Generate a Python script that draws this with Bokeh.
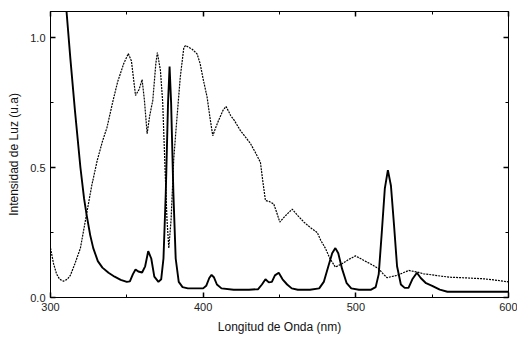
from bokeh.plotting import figure
from bokeh.models import LinearAxis, FixedTicker, Range1d
from bokeh.embed import file_html
from bokeh.resources import INLINE

# Solid curve (emission)
em_wl = [308, 310.5, 313, 316, 319.6, 322, 323.6, 326, 328, 331, 334, 338, 342, 346, 350, 352, 354, 355.7, 357.5, 360,
         362, 364, 366, 368, 370.7, 372.5, 374, 375.5, 377, 378, 379, 380.5, 382, 384, 386.5, 390, 395, 400, 402, 404,
         405.5, 407, 409, 412, 420, 430, 436, 438.5, 440.8, 443, 445, 447, 449.5, 452, 455, 458, 462, 470, 476, 479,
         482, 484.5, 486.6, 488.5, 491, 494, 497, 502, 510, 513, 515, 517, 519, 521, 523, 525, 527, 529.5, 532, 534.5,
         537, 540, 542.5, 546, 550, 555, 560, 570, 580, 600]
em_val = [1.35, 1.1, 0.92, 0.72, 0.5, 0.38, 0.32, 0.24, 0.19, 0.14, 0.115, 0.095, 0.08, 0.068, 0.06, 0.062, 0.09, 0.108, 0.1, 0.096,
          0.12, 0.178, 0.15, 0.08, 0.06, 0.07, 0.15, 0.4, 0.75, 0.888, 0.75, 0.4, 0.15, 0.06, 0.04, 0.035, 0.035, 0.035, 0.045, 0.075,
          0.087, 0.078, 0.05, 0.035, 0.03, 0.03, 0.032, 0.05, 0.07, 0.058, 0.06, 0.085, 0.095, 0.07, 0.05, 0.035, 0.03, 0.03, 0.035, 0.06,
          0.12, 0.17, 0.19, 0.17, 0.11, 0.055, 0.035, 0.03, 0.03, 0.04, 0.09, 0.25, 0.42, 0.49, 0.43, 0.28, 0.12, 0.05, 0.037, 0.037,
          0.07, 0.095, 0.075, 0.055, 0.045, 0.03, 0.022, 0.022, 0.022, 0.022]

# Dotted curve
ab_wl = [300, 302, 304, 306, 308.5, 311, 313, 316, 319.6, 323.6, 327, 330.6, 334, 337, 341, 344, 348, 351, 353, 355.7,
         358, 360, 361.5, 363.3, 365, 367, 369, 370, 372, 373.5, 375, 376.3, 377.5, 379, 380.7, 382, 385, 387.3, 388.4, 392.8,
         396, 398, 400, 402.6, 404.5, 406.3, 408, 410, 413, 415, 418, 420.5, 424.4, 428, 431, 434, 437.5, 439, 440.8, 443,
         446.2, 448, 450.2, 454, 458.3, 462, 466, 470, 474.7, 477, 480, 483, 486.6, 491, 495, 499.7, 503, 507.4, 511, 515,
         518, 520.5, 523, 527, 531, 534.7, 540, 544.5, 550, 556, 562, 570, 577, 583.6, 590, 595, 600]
ab_val = [0.19, 0.13, 0.09, 0.07, 0.063, 0.07, 0.085, 0.13, 0.19, 0.32, 0.43, 0.527, 0.6, 0.654, 0.758, 0.83, 0.9, 0.938, 0.91, 0.777,
          0.8, 0.838, 0.76, 0.63, 0.7, 0.758, 0.9, 0.942, 0.873, 0.75, 0.5, 0.3, 0.19, 0.3, 0.53, 0.63, 0.847, 0.96, 0.969, 0.955,
          0.937, 0.9, 0.84, 0.77, 0.69, 0.622, 0.65, 0.68, 0.72, 0.735, 0.7, 0.68, 0.642, 0.615, 0.592, 0.56, 0.52, 0.45, 0.373, 0.37,
          0.36, 0.33, 0.29, 0.315, 0.34, 0.315, 0.29, 0.27, 0.25, 0.22, 0.19, 0.15, 0.117, 0.13, 0.145, 0.16, 0.15, 0.136, 0.125, 0.11,
          0.09, 0.076, 0.08, 0.085, 0.095, 0.104, 0.098, 0.091, 0.087, 0.082, 0.078, 0.076, 0.074, 0.072, 0.068, 0.064, 0.06]

x_ticks = [300, 400, 500, 600]
x_minor = [350, 450, 550]
y_ticks = [0.0, 0.5, 1.0]
y_minor = [0.25, 0.75]

FONT = "Liberation Sans"

p = figure(width=517, height=337, output_backend="svg", toolbar_location=None,
           x_range=Range1d(300, 600), y_range=Range1d(0, 1.1),
           x_axis_label="Longitud de Onda (nm)", y_axis_label="Intensidad de Luz (u.a)",
           min_border_left=50, min_border_right=9, min_border_top=11, min_border_bottom=40)
p.grid.visible = False
p.background_fill_color = "white"
p.border_fill_color = "white"
p.outline_line_color = "black"
p.outline_line_width = 1

p.line(em_wl, em_val, line_color="black", line_width=1.9)
p.line(ab_wl, ab_val, line_color="black", line_width=1.2, line_dash="2 1")

xt = FixedTicker(ticks=x_ticks, minor_ticks=x_minor)
yt = FixedTicker(ticks=y_ticks, minor_ticks=y_minor)

def style(ax, ticker, labels=True):
    ax.ticker = ticker
    ax.axis_line_color = "black"
    ax.axis_line_width = 1
    ax.major_tick_in = 5
    ax.major_tick_out = 0
    ax.minor_tick_in = 3
    ax.minor_tick_out = 0
    ax.major_tick_line_color = "black"
    ax.minor_tick_line_color = "black"
    ax.major_tick_line_width = 1.5
    if labels:
        ax.major_label_text_font = FONT
        ax.major_label_text_font_size = "11px"
        ax.major_label_text_color = "#222222"
        ax.axis_label_text_font = FONT
        ax.axis_label_text_font_size = "12px"
        ax.axis_label_text_font_style = "normal"
        ax.axis_label_text_color = "#111111"
        ax.axis_label_standoff = 6
        ax.major_label_standoff = 5
    else:
        ax.major_label_overrides = {t: "" for t in ticker.ticks}
        ax.major_label_standoff = 0
        ax.axis_label = None

style(p.xaxis[0], xt)
style(p.yaxis[0], yt)
p.xaxis[0].major_label_overrides = {300: "300", 400: "400", 500: "500", 600: "600"}
p.yaxis[0].major_label_overrides = {0.0: "0.0", 0.5: "0.5", 1.0: "1.0"}

top = LinearAxis()
style(top, FixedTicker(ticks=x_ticks, minor_ticks=x_minor), labels=False)
p.add_layout(top, "above")
right = LinearAxis()
style(right, FixedTicker(ticks=y_ticks, minor_ticks=y_minor), labels=False)
p.add_layout(right, "right")

open("out.html", "w").write(file_html(p, INLINE))
